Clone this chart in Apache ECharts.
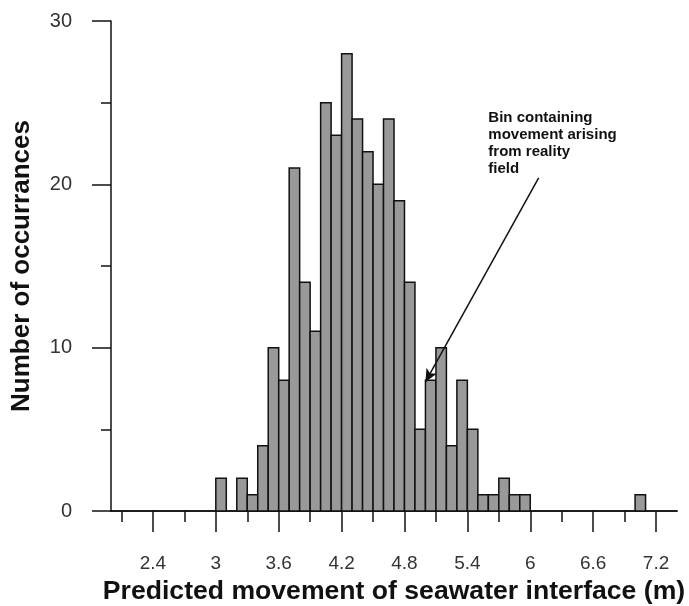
<!DOCTYPE html>
<html>
<head>
<meta charset="utf-8">
<script src="https://cdn.jsdelivr.net/npm/echarts@6/dist/echarts.min.js"></script>
<style>
html,body{margin:0;padding:0;background:#fff;}
#chart{width:689px;height:606px;}
</style>
</head>
<body>
<div id="chart"></div>
<script>
// ---- data ----
const binWidth = 0.1;
const binStart = [3.0,3.1,3.2,3.3,3.4,3.5,3.6,3.7,3.8,3.9,4.0,4.1,4.2,4.3,4.4,4.5,4.6,4.7,4.8,4.9,5.0,5.1,5.2,5.3,5.4,5.5,5.6,5.7,5.8,5.9,7.0];
const counts   = [2,  0,  2,  1,  4,  10, 8,  21, 14, 11, 25, 23, 28, 24, 22, 20, 24, 19, 14, 5,  8,  10, 4,  8,  5,  1,  1,  2,  1,  1,  1];
const majorTicks = [2.4,3.0,3.6,4.2,4.8,5.4,6.0,6.6,7.2];
const tickLabels = ['2.4','3','3.6','4.2','4.8','5.4','6','6.6','7.2'];
const minorTicks = [2.1,2.7,3.3,3.9,4.5,5.1,5.7,6.3,6.9];
const annotationLines = ['Bin containing','movement arising','from reality','field'];
const annotationAt = [5.6, 24.6];
const arrowFrom = [6.08, 20.4];
const arrowTo = [5.0, 7.9];
const xTitle = 'Predicted movement of seawater interface (m)';
const yTitle = 'Number of occurrances';

const FONT = "'Liberation Sans', Arial, sans-serif";
const histData = binStart.map((s, i) => [s, +(s + binWidth).toFixed(2), counts[i]]);

const chart = echarts.init(document.getElementById('chart'), null, {renderer: 'canvas'});
const axisColor = '#111';
chart.setOption({
  animation: false,
  backgroundColor: '#fff',
  grid: {left: 111, right: 12, top: 21, bottom: 95, containLabel: false, outerBoundsMode: 'none'},
  xAxis: [
    {
      type: 'value', min: 2.0, max: 7.4, position: 'bottom',
      axisLine: {show: true, onZero: false, lineStyle: {color: axisColor, width: 1.5}},
      axisTick: {show: true, customValues: minorTicks, length: 11, lineStyle: {color: axisColor, width: 1.5}},
      axisLabel: {show: false},
      splitLine: {show: false}
    },
    {
      type: 'value', min: 2.0, max: 7.4, position: 'bottom',
      axisLine: {show: true, onZero: false, lineStyle: {color: axisColor, width: 1.5}},
      axisTick: {show: true, customValues: majorTicks, length: 21, lineStyle: {color: axisColor, width: 1.5}},
      axisLabel: {
        show: true, customValues: majorTicks, margin: 43,
        fontSize: 19, color: '#333', fontFamily: FONT,
        formatter: (v) => tickLabels[majorTicks.findIndex(t => Math.abs(t - v) < 1e-6)] || ''
      },
      splitLine: {show: false},
      name: xTitle, nameLocation: 'middle', nameGap: 64,
      nameTextStyle: {fontSize: 26.6, fontWeight: 'bold', color: '#111', fontFamily: FONT}
    }
  ],
  yAxis: {
    type: 'value', min: 0, max: 30, interval: 10,
    axisLine: {show: true, lineStyle: {color: axisColor, width: 1.5}},
    axisTick: {show: true, length: 19, lineStyle: {color: axisColor, width: 1.5}},
    minorTick: {show: true, splitNumber: 2, length: 10, lineStyle: {color: axisColor, width: 1.5}},
    axisLabel: {fontSize: 20, color: '#333', margin: 39, fontFamily: FONT},
    splitLine: {show: false},
    minorSplitLine: {show: false},
    name: yTitle, nameLocation: 'middle', nameGap: 76, nameRotate: 90,
    nameTextStyle: {fontSize: 26, fontWeight: 'bold', color: '#111', fontFamily: FONT}
  },
  series: [
    {
      type: 'custom',
      xAxisIndex: 0, yAxisIndex: 0,
      data: histData,
      encode: {x: [0, 1], y: 2},
      renderItem: function (params, api) {
        const x0 = api.value(0), x1 = api.value(1), c = api.value(2);
        if (!c) return null;
        const p0 = api.coord([x0, c]);
        const p1 = api.coord([x1, 0]);
        return {
          type: 'rect',
          shape: {x: p0[0], y: p0[1], width: p1[0] - p0[0], height: p1[1] - p0[1]},
          style: {fill: '#999999', stroke: '#111', lineWidth: 1.5}
        };
      }
    },
    {
      type: 'scatter',
      xAxisIndex: 0, yAxisIndex: 0,
      data: [],
      silent: true,
      markLine: {
        silent: true,
        symbol: ['none', 'arrow'],
        symbolSize: [9, 13],
        label: {show: false},
        lineStyle: {color: '#111', width: 1.5, type: 'solid'},
        data: [[{coord: arrowFrom}, {coord: arrowTo}]]
      },
      markPoint: {
        silent: true,
        data: [{
          coord: annotationAt, symbol: 'circle', symbolSize: 0,
          label: {
            show: true, position: [0, 0], align: 'left', verticalAlign: 'top',
            formatter: annotationLines.join('\n'),
            fontSize: 15, fontWeight: 'bold', color: '#111', lineHeight: 17, fontFamily: FONT
          }
        }]
      }
    }
  ]
});
</script>
</body>
</html>
